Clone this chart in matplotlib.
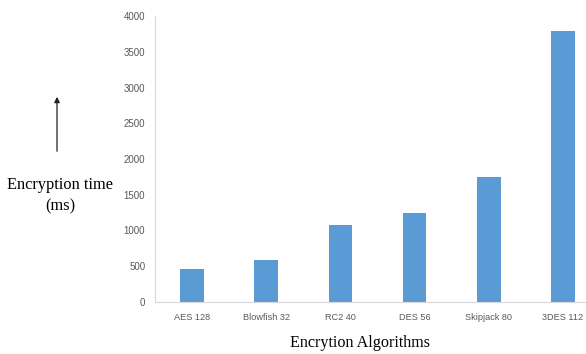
import matplotlib
matplotlib.use("Agg")
import matplotlib.pyplot as plt

algorithms = ["AES 128", "Blowfish 32", "RC2 40", "DES 56", "Skipjack 80", "3DES 112"]
times_ms = [460, 590, 1080, 1245, 1750, 3790]
y_ticks = [0, 500, 1000, 1500, 2000, 2500, 3000, 3500, 4000]

fig = plt.figure(figsize=(5.86, 3.54), dpi=100)
ax = fig.add_axes([155 / 586, 52 / 354, 445 / 586, 286 / 354])

ax.bar(range(len(algorithms)), times_ms, width=0.32, color="#5B9BD5")
ax.set_xlim(-0.5, len(algorithms) - 0.5)
ax.set_ylim(0, 4000)
ax.set_yticks(y_ticks)
ax.set_xticks(range(len(algorithms)))
ax.set_xticklabels(algorithms)

for lab in ax.get_xticklabels():
    lab.set_fontfamily("Liberation Sans")
    lab.set_fontsize(6.6)
    lab.set_color("#595959")
for lab in ax.get_yticklabels():
    lab.set_fontfamily("Liberation Sans")
    lab.set_fontsize(7)
    lab.set_color("#595959")
ax.tick_params(length=0)
ax.tick_params(axis="x", pad=8)
ax.tick_params(axis="y", pad=7)

for side in ["top", "right"]:
    ax.spines[side].set_visible(False)
for side in ["left", "bottom"]:
    ax.spines[side].set_color("#D9D9D9")
    ax.spines[side].set_linewidth(0.8)

fig.text(60 / 586, 1 - 196 / 354, "Encryption time\n(ms)", ha="center", va="center",
         fontfamily="Liberation Serif", fontsize=11.8, linespacing=1.45)
fig.text(360 / 586, 1 - 343 / 354, "Encrytion Algorithms", ha="center", va="center",
         fontfamily="Liberation Serif", fontsize=11.6)
fig.add_artist(matplotlib.patches.FancyArrowPatch(
    (57 / 586, 1 - 154 / 354), (57 / 586, 1 - 94 / 354), transform=fig.transFigure,
    arrowstyle="-|>", mutation_scale=8, color="#222222", lw=0.9))

fig.savefig("out.png", dpi=100)
